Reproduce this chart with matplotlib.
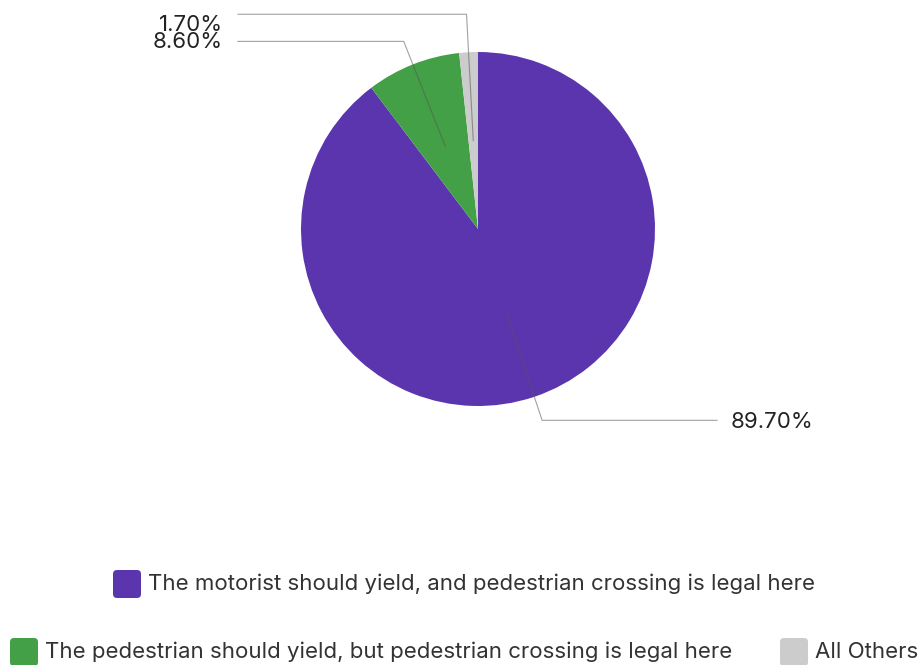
import numpy as np
import matplotlib.pyplot as plt
from matplotlib.patches import FancyBboxPatch

plt.rcParams['font.family'] = ['Inter', 'DejaVu Sans']

labels = ['The motorist should yield, and pedestrian crossing is legal here',
          'The pedestrian should yield, but pedestrian crossing is legal here',
          'All Others']
values = [89.7, 8.6, 1.7]
colors = ['#5b35ad', '#43a047', '#cccccc']

W, H = 919, 665
fig = plt.figure(figsize=(W / 100, H / 100), dpi=100)
ax = fig.add_axes([0, 0, 1, 1])

cx, cy, R = 478, H - 229, 177
wedges, _ = ax.pie(values, colors=colors, startangle=90, counterclock=False,
                   center=(cx, cy), radius=R, frame=True,
                   wedgeprops=dict(linewidth=0))
ax.set_xlim(0, W)
ax.set_ylim(0, H)
ax.set_aspect('equal')
ax.axis('off')

# leader lines: radial from half radius, then horizontal to the label
elbow = [1.14, 1.14, 1.215]
ends = [717, 238, 238]
text_dy = [-2, -1, -11]
zs = [3, 4, 3]
for w, v, e, xe, dy, z in zip(wedges, values, elbow, ends, text_dy, zs):
    ang = np.deg2rad((w.theta1 + w.theta2) / 2)
    x0, y0 = cx + 0.5 * R * np.cos(ang), cy + 0.5 * R * np.sin(ang)
    x1, y1 = cx + e * R * np.cos(ang), cy + e * R * np.sin(ang)
    ax.plot([x0, x1, xe], [y0, y1, y1], color='#555555', lw=0.8, alpha=0.55)
    txt = f'{v:.2f}%'
    if xe > cx:
        ax.text(xe + 14, y1 + dy, txt, ha='left', va='center', fontsize=16,
                color='#222222', zorder=z)
    else:
        ax.text(xe - 15, y1 + dy, txt, ha='right', va='center', fontsize=16,
                color='#222222', zorder=z)

# legend rows
items = [(113, 584, 0), (10, 652, 1), (780, 652, 2)]
for x, y, i in items:
    ax.add_patch(FancyBboxPatch((x + 4, H - y - 10), 20, 20,
                                boxstyle='round,pad=4', fc=colors[i], ec='none'))
    ax.text(x + 35, H - y, labels[i], ha='left', va='center', fontsize=16,
            color='#333333')

fig.savefig('out.png', dpi=100)
